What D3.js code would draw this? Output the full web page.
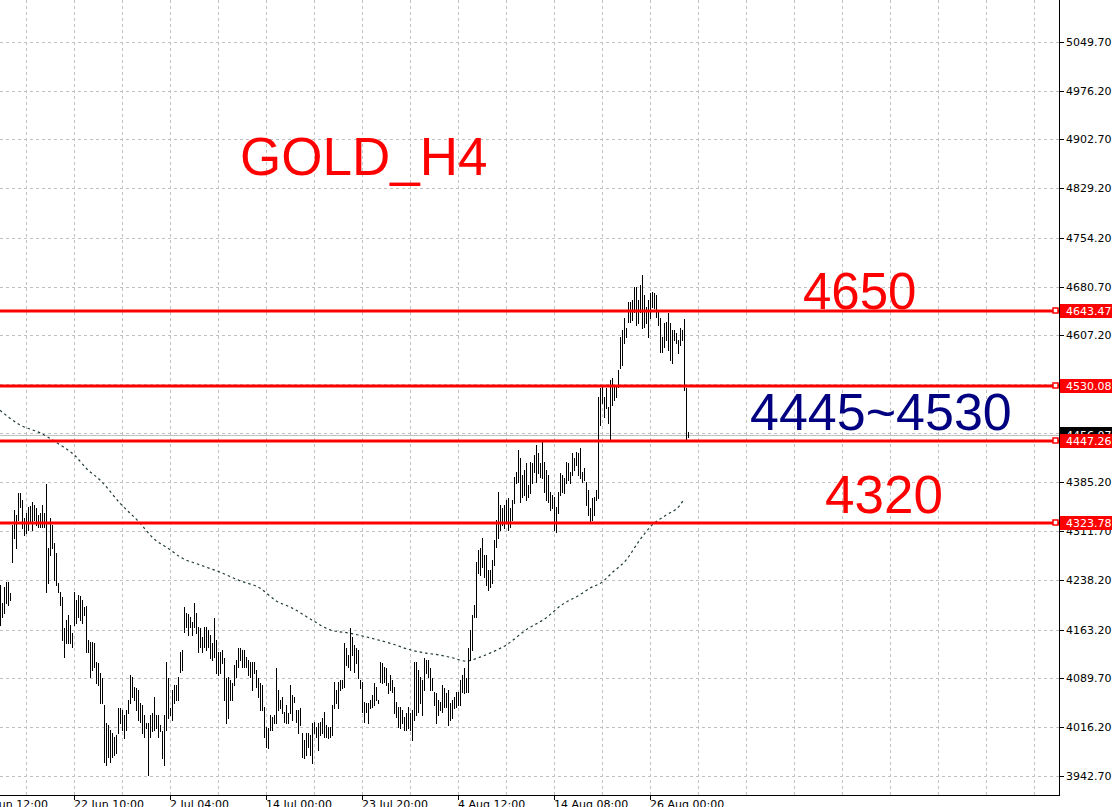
<!DOCTYPE html>
<html><head><meta charset="utf-8">
<script src="https://cdn.jsdelivr.net/npm/d3@7"></script>
<style>html,body{margin:0;padding:0;background:#fff;overflow:hidden}</style>
</head><body>
<svg id="c" width="1112" height="807"></svg>
<script>
// ---- data (H4 bars, oldest first) ----
const highs=[4231,4204,4228,4235,4235,4219,4321,4344,4336,4369,4369,4359,4332,4339,4348,4350,4356,4351,4347,4336,
4339,4351,4339,4383,4286,4332,4321,4294,4279,4234,4220,4213,4166,4178,4185,4170,4158,4220,4208,4216,
4214,4208,4198,4199,4148,4145,4145,4143,4115,4113,4098,4090,4050,4023,4020,4012,4008,4002,4005,4045,
4045,4042,4035,4042,4057,4095,4092,4077,4075,4072,4053,4050,4035,4023,4023,4035,4038,4062,4035,4035,
4020,4011,4035,4115,4090,4045,4072,4080,4080,4092,4130,4133,4198,4189,4187,4182,4175,4204,4189,4167,
4166,4152,4167,4167,4163,4155,4143,4181,4148,4130,4130,4133,4121,4090,4092,4087,4083,4110,4118,4136,
4136,4133,4133,4122,4118,4115,4115,4115,4103,4090,4083,4080,4047,4017,4015,4035,4032,4035,4105,4072,
4057,4062,4039,4050,4038,4080,4065,4062,4042,4042,4045,4008,3997,4008,4008,4005,4023,4024,4017,4023,
4024,4030,4039,4020,4017,4017,4050,4084,4072,4084,4087,4087,4143,4136,4125,4166,4152,4140,4136,4133,
4087,4084,4054,4053,4053,4057,4065,4083,4077,4057,4115,4113,4107,4106,4083,4095,4087,4077,4054,4047,
4047,4042,4032,4038,4047,4038,4042,4115,4115,4103,4092,4087,4121,4118,4118,4106,4090,4069,4068,4057,
4054,4080,4075,4068,4072,4053,4057,4062,4069,4069,4087,4095,4105,4090,4136,4163,4185,4201,4265,4283,
4286,4301,4276,4276,4253,4253,4268,4298,4329,4371,4351,4347,4351,4359,4362,4347,4359,4394,4401,4434,
4422,4397,4404,4415,4381,4416,4415,4427,4442,4430,4415,4449,4416,4404,4397,4371,4366,4363,4348,4371,
4400,4397,4392,4416,4415,4401,4430,4422,4431,4430,4437,4401,4407,4386,4374,4347,4362,4363,4374,4514,
4528,4529,4514,4528,4499,4540,4543,4532,4529,4555,4605,4615,4633,4618,4657,4657,4660,4680,4680,4660,
4683,4698,4668,4650,4660,4671,4672,4671,4668,4642,4633,4605,4626,4627,4641,4626,4615,4615,4611,4600,
4618,4615,4632,4528,4461];
const lows=[4170,4182,4188,4204,4201,4208,4265,4302,4286,4329,4348,4317,4306,4309,4314,4324,4314,4329,4321,4318,
4318,4318,4318,4220,4234,4276,4286,4238,4231,4220,4201,4148,4122,4143,4143,4143,4137,4170,4173,4182,
4178,4173,4185,4130,4130,4092,4103,4107,4083,4080,4053,4053,3964,3959,3971,3964,3971,3974,3977,4008,
4023,4012,4000,4012,4038,4053,4062,4057,4042,4027,4024,4008,4002,4015,3944,4002,4011,4012,4015,4002,
4011,3970,3959,4012,4030,4035,4027,4053,4057,4057,4100,4103,4160,4167,4155,4167,4155,4167,4158,4130,
4137,4130,4137,4133,4137,4121,4118,4122,4098,4095,4098,4113,4057,4023,4030,4057,4057,4080,4092,4107,
4118,4107,4107,4107,4095,4092,4072,4098,4077,4062,4042,4042,4002,3986,3985,4012,4012,4023,4023,4042,
4045,4038,4024,4023,4023,4038,4027,4054,4024,4008,4020,3971,3970,3974,3986,3974,3962,4008,4002,3982,
4005,4008,4002,4002,4000,4002,4005,4045,4053,4045,4072,4075,4077,4110,4107,4103,4125,4100,4113,4090,
4075,4039,4024,4039,4023,4045,4047,4050,4057,4053,4084,4083,4084,4080,4068,4072,4069,4038,4032,4017,
4015,4023,4012,4012,4015,4012,3997,4027,4035,4039,4053,4035,4072,4098,4092,4072,4072,4050,4023,4035,
4042,4039,4047,4047,4020,4027,4030,4045,4047,4050,4050,4069,4068,4069,4069,4118,4133,4182,4182,4249,
4246,4258,4243,4231,4223,4228,4234,4261,4288,4301,4314,4321,4317,4324,4314,4318,4329,4354,4385,4386,
4356,4363,4366,4359,4363,4369,4385,4401,4386,4400,4394,4392,4371,4359,4356,4344,4347,4314,4311,4339,
4366,4371,4369,4385,4389,4385,4397,4404,4412,4397,4392,4386,4389,4351,4336,4326,4329,4336,4359,4362,
4472,4505,4484,4498,4475,4449,4502,4510,4514,4529,4558,4563,4596,4605,4627,4627,4630,4642,4623,4626,
4642,4618,4620,4626,4605,4633,4650,4648,4635,4623,4582,4582,4590,4600,4585,4570,4565,4600,4596,4580,
4593,4600,4525,4449,4454];
// moving average: bar index -> value
const maIndex=[0,10,20,30,37,44,50,60,70,76,85,90,100,110,120,130,138,146,156,165,175,185,196,205,213,220,226,233,240,245,253,263,273,281,290,295,301,306,313,320,326,333,340,342];
const maValues=[4494,4472,4460,4442,4427,4404,4389,4354,4324,4303,4284,4273,4261,4250,4237,4226,4207,4196,4178,4163,4158,4151,4142,4133,4128,4125,4121,4116,4122,4128,4140,4163,4181,4201,4216,4226,4235,4249,4268,4299,4321,4336,4351,4360];
const priceTicks=[3942.70,4016.20,4089.70,4163.20,4238.20,4311.70,4385.20,4460.20,4533.70,4607.20,4680.70,4754.20,4829.20,4902.70,4976.20,5049.70];
const timeLabels=["11 Jun 12:00","22 Jun 10:00","2 Jul 04:00","14 Jul 00:00","23 Jul 20:00","4 Aug 12:00","14 Aug 08:00","26 Aug 00:00"];
const timeLabelIndex=[-11,37,85,133,181,229,277,325];
const levelPrices=[4643.47,4530.08,4447.26,4323.78];
const bidPrice=4456.07;

// ---- drawing ----
const svg=d3.select("#c");
const W=1059, H=795;
const x=d3.scaleLinear().domain([0,344]).range([0,688]);
const y=d3.scaleLinear().domain([3914.05,5112.65]).range([H,0]);
const font="'DejaVu Sans', Verdana, sans-serif";
const crisp=v=>Math.round(v)+0.5;

svg.append("rect").attr("width",1112).attr("height",807).attr("fill","#fff");

// grid
const gridIdx=d3.range(13,530,24);
const g=svg.append("g");
g.selectAll("line.v").data(gridIdx).join("line")
  .attr("x1",d=>crisp(x(d))).attr("x2",d=>crisp(x(d))).attr("y1",0).attr("y2",H)
  .attr("stroke","#c0c0c0").attr("stroke-dasharray","3,3");
g.selectAll("line.h").data(priceTicks).join("line")
  .attr("x1",0).attr("x2",W).attr("y1",d=>crisp(y(d))).attr("y2",d=>crisp(y(d)))
  .attr("stroke","#c0c0c0").attr("stroke-dasharray","3,3");

// bid line
svg.append("line").attr("x1",0).attr("x2",W).attr("y1",crisp(y(bidPrice))).attr("y2",crisp(y(bidPrice)))
  .attr("stroke","#c0c0c0");

// moving average
const ma=maIndex.map((d,i)=>[d,maValues[i]]);
svg.append("path").datum(ma)
  .attr("d",d3.line().x(d=>x(d[0])).y(d=>y(d[1])).curve(d3.curveMonotoneX))
  .attr("fill","none").attr("stroke","#1f3a3a").attr("stroke-width",1.2).attr("stroke-dasharray","2.5,3");

// bars
svg.append("g").selectAll("line").data(highs).join("line")
  .attr("x1",(d,i)=>crisp(x(i))).attr("x2",(d,i)=>crisp(x(i)))
  .attr("y1",d=>Math.round(y(d))).attr("y2",(d,i)=>Math.round(y(lows[i]))+1)
  .attr("stroke","#000").attr("stroke-width",1);

// red levels
const lv=svg.append("g");
lv.selectAll("line").data(levelPrices).join("line")
  .attr("x1",0).attr("x2",W).attr("y1",d=>Math.round(y(d))).attr("y2",d=>Math.round(y(d)))
  .attr("stroke","#ff0000").attr("stroke-width",3);
lv.selectAll("rect").data(levelPrices).join("rect")
  .attr("x",1053).attr("y",d=>Math.round(y(d))-3).attr("width",5).attr("height",5)
  .attr("fill","#fff").attr("stroke","#ff0000").attr("stroke-width",1.5);

// frame
svg.append("line").attr("x1",crisp(W)).attr("x2",crisp(W)).attr("y1",0).attr("y2",H+1).attr("stroke","#000");
svg.append("line").attr("x1",0).attr("x2",crisp(W)).attr("y1",crisp(H)).attr("y2",crisp(H)).attr("stroke","#000");

// right axis labels
const ra=svg.append("g").attr("font-family",font).attr("font-size",11);
ra.selectAll("line").data(priceTicks).join("line")
  .attr("x1",1060).attr("x2",1064).attr("y1",d=>crisp(y(d))).attr("y2",d=>crisp(y(d))).attr("stroke","#000");
ra.selectAll("text").data(priceTicks).join("text")
  .attr("x",1066).attr("y",d=>Math.round(y(d))+4).attr("fill","#000").text(d=>d.toFixed(2));

// bid box
const by=Math.round(y(bidPrice));
svg.append("rect").attr("x",1060).attr("y",by-8).attr("width",52).attr("height",14).attr("fill","#000");
svg.append("text").attr("x",1066).attr("y",by+4).attr("font-family",font).attr("font-size",11)
  .attr("fill","#fff").text(bidPrice.toFixed(2));

// level boxes
const lb=svg.append("g").attr("font-family",font).attr("font-size",11);
lb.selectAll("rect").data(levelPrices).join("rect")
  .attr("x",1060).attr("y",d=>Math.round(y(d))-7).attr("width",52).attr("height",14).attr("fill","#ff0000");
lb.selectAll("text").data(levelPrices).join("text")
  .attr("x",1066).attr("y",d=>Math.round(y(d))+4).attr("fill","#fff").text(d=>d.toFixed(2));

// time axis
const ta=svg.append("g").attr("font-family",font).attr("font-size",11);
ta.selectAll("line").data(timeLabelIndex).join("line")
  .attr("x1",d=>crisp(x(d))).attr("x2",d=>crisp(x(d))).attr("y1",H).attr("y2",H+5).attr("stroke","#000");
ta.selectAll("text").data(timeLabels).join("text")
  .attr("x",(d,i)=>Math.round(x(timeLabelIndex[i]))).attr("y",H+13).attr("fill","#000").text(d=>d);

// annotations
const af="'Liberation Sans', Arial, sans-serif";
svg.append("text").attr("x",240).attr("y",175).attr("font-family",af).attr("font-size",53).attr("fill","#ff0000").text("GOLD_H4");
svg.append("text").attr("x",803).attr("y",309).attr("font-family",af).attr("font-size",51).attr("fill","#ff0000").text("4650");
svg.append("text").attr("x",750).attr("y",430).attr("font-family",af).attr("font-size",52).attr("fill","#000080").text("4445~4530");
svg.append("text").attr("x",825).attr("y",513).attr("font-family",af).attr("font-size",53).attr("fill","#ff0000").text("4320");
</script>
</body></html>
